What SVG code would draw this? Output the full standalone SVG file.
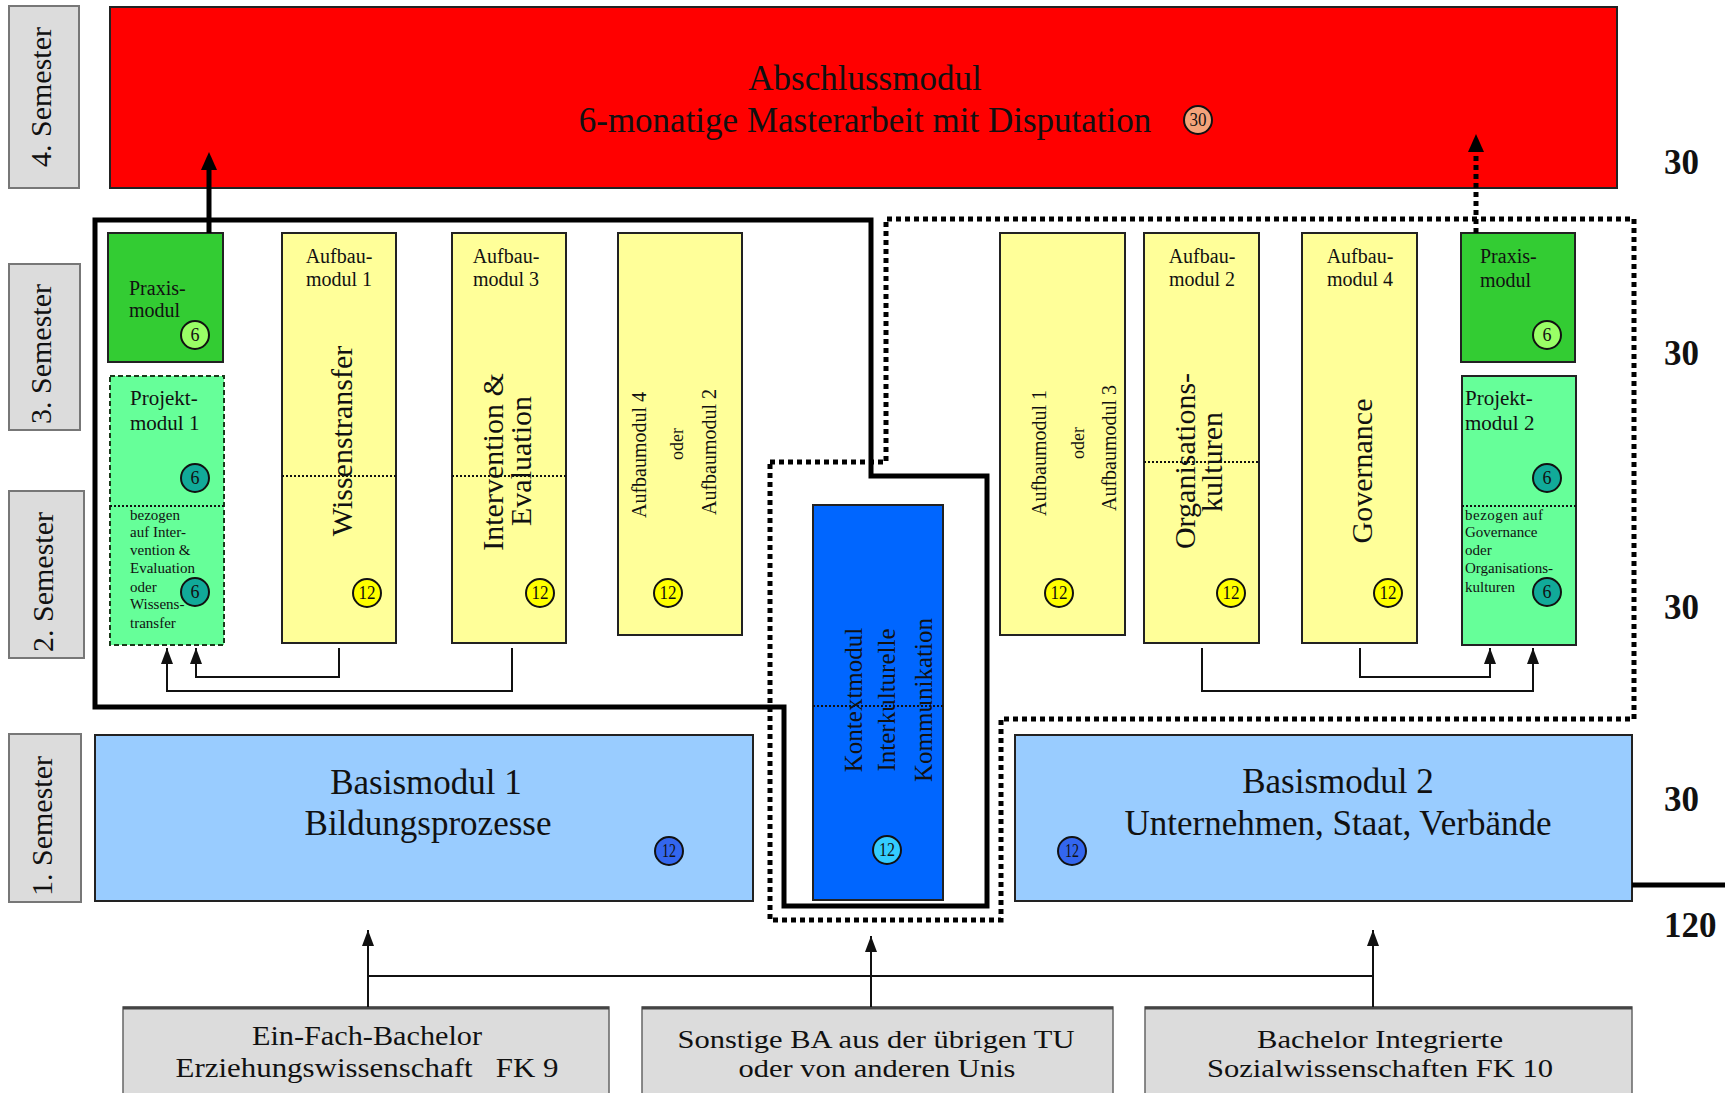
<svg xmlns="http://www.w3.org/2000/svg" width="1725" height="1093" viewBox="0 0 1725 1093">
<defs>
<style>
.t{font-family:"Liberation Serif","Times New Roman",serif;fill:#111}
.box{stroke:#222;stroke-width:2}
.sem{fill:#dcdcdc;stroke:#777;stroke-width:2}
.src{fill:#dcdcdc;stroke:#666;stroke-width:1.5}
.bc{stroke:#111;stroke-width:2}
.bt{font-family:"Liberation Serif","Times New Roman",serif;font-size:18px;text-anchor:middle;fill:#111}
.sep{stroke:#111;stroke-width:2;stroke-dasharray:2 2;fill:none}
.conn{stroke:#111;stroke-width:2;fill:none}
.thick{stroke:#000;stroke-width:5;fill:none}
.dotted{stroke:#000;stroke-width:5;stroke-dasharray:5 4;fill:none}
.mid{text-anchor:middle}
.num{font-family:"Liberation Serif","Times New Roman",serif;font-weight:bold;font-size:35px;fill:#111}
</style>
<marker id="arr" viewBox="0 0 16 12" refX="16" refY="6" markerWidth="16" markerHeight="12" markerUnits="userSpaceOnUse" orient="auto"><path d="M0,0 L16,6 L0,12 z" fill="#111"/></marker>
<marker id="arrT" viewBox="0 0 18 16" refX="4" refY="8" markerWidth="18" markerHeight="16" markerUnits="userSpaceOnUse" orient="auto"><path d="M0,0 L18,8 L0,16 z" fill="#000"/></marker>
</defs>
<rect width="1725" height="1093" fill="#fff"/>

<!-- semester labels -->
<g id="sem4"><rect class="sem" x="9" y="6" width="70" height="182"/><text class="t mid" font-size="30" transform="translate(51,97) rotate(-90)">4. Semester</text></g>
<g id="sem3"><rect class="sem" x="9" y="264" width="71" height="166"/><text class="t mid" font-size="30" transform="translate(51,354) rotate(-90)">3. Semester</text></g>
<g id="sem2"><rect class="sem" x="9" y="491" width="75" height="167"/><text class="t mid" font-size="30" transform="translate(53,582) rotate(-90)">2. Semester</text></g>
<g id="sem1"><rect class="sem" x="9" y="734" width="72" height="168"/><text class="t mid" font-size="30" transform="translate(52,826) rotate(-90)">1. Semester</text></g>

<!-- Abschlussmodul -->
<g id="abschluss">
<rect class="box" x="110" y="7" width="1507" height="181" fill="#ff0000"/>
<text class="t mid" font-size="35" x="865" y="90">Abschlussmodul</text>
<text class="t mid" font-size="35" x="865" y="132">6-monatige Masterarbeit mit Disputation</text>
<circle class="bc" cx="1198" cy="120" r="14" fill="#f4a37a"/><text class="bt" x="1198" y="126" font-size="17" textLength="17" lengthAdjust="spacingAndGlyphs">30</text>
</g>

<!-- left group -->
<g id="praxis1">
<rect class="box" x="108" y="233" width="115" height="129" fill="#33cc33"/>
<text class="t" font-size="20" x="129" y="295">Praxis-</text>
<text class="t" font-size="20" x="129" y="317">modul</text>
<circle class="bc" cx="195" cy="335" r="14" fill="#99ff66"/><text class="bt" x="195" y="341" fill="#225522">6</text>
</g>
<g id="projekt1">
<rect x="110" y="376" width="114" height="269" fill="#66ff99" stroke="#1a3a1a" stroke-width="2" stroke-dasharray="5 3"/>
<text class="t" font-size="21" x="130" y="405">Projekt-</text>
<text class="t" font-size="21" x="130" y="430">modul 1</text>
<circle class="bc" cx="195" cy="478" r="14" fill="#11aa99"/><text class="bt" x="195" y="484">6</text>
<line class="sep" x1="110" y1="506" x2="224" y2="506"/>
<text class="t" font-size="15" x="130" y="520">bezogen</text>
<text class="t" font-size="15" x="130" y="537">auf Inter-</text>
<text class="t" font-size="15" x="130" y="555">vention &amp;</text>
<text class="t" font-size="15" x="130" y="573">Evaluation</text>
<text class="t" font-size="15" x="130" y="592">oder</text>
<text class="t" font-size="15" x="130" y="609">Wissens-</text>
<text class="t" font-size="15" x="130" y="628">transfer</text>
<circle class="bc" cx="195" cy="592" r="14" fill="#11aa99"/><text class="bt" x="195" y="598">6</text>
</g>
<g id="aufbau1">
<rect class="box" x="282" y="233" width="114" height="410" fill="#ffff99"/>
<text class="t mid" font-size="20" x="339" y="263">Aufbau-</text>
<text class="t mid" font-size="20" x="339" y="286">modul 1</text>
<line class="sep" x1="282" y1="476" x2="396" y2="476"/>
<text class="t mid" font-size="30" transform="translate(352,441) rotate(-90)">Wissenstransfer</text>
<circle class="bc" cx="367" cy="593" r="14" fill="#ffff00"/><text class="bt" x="367" y="599" textLength="17" lengthAdjust="spacingAndGlyphs">12</text>
</g>
<g id="aufbau3">
<rect class="box" x="452" y="233" width="114" height="410" fill="#ffff99"/>
<text class="t mid" font-size="20" x="506" y="263">Aufbau-</text>
<text class="t mid" font-size="20" x="506" y="286">modul 3</text>
<line class="sep" x1="452" y1="476" x2="566" y2="476"/>
<text class="t mid" font-size="30" transform="translate(503,462) rotate(-90)">Intervention &amp;</text>
<text class="t mid" font-size="30" transform="translate(531,461) rotate(-90)">Evaluation</text>
<circle class="bc" cx="540" cy="593" r="14" fill="#ffff00"/><text class="bt" x="540" y="599" textLength="17" lengthAdjust="spacingAndGlyphs">12</text>
</g>
<g id="aufbau4oder2">
<rect class="box" x="618" y="233" width="124" height="402" fill="#ffff99"/>
<text class="t mid" font-size="20" transform="translate(646,455) rotate(-90)">Aufbaumodul 4</text>
<text class="t mid" font-size="18" transform="translate(683,444) rotate(-90)">oder</text>
<text class="t mid" font-size="20" transform="translate(716,452) rotate(-90)">Aufbaumodul 2</text>
<circle class="bc" cx="668" cy="593" r="14" fill="#ffff00"/><text class="bt" x="668" y="599" textLength="17" lengthAdjust="spacingAndGlyphs">12</text>
</g>

<!-- Kontextmodul -->
<g id="kontext">
<rect class="box" x="813" y="505" width="130" height="395" fill="#0066ff"/>
<line class="sep" x1="813" y1="706" x2="943" y2="706"/>
<text class="t mid" font-size="25" transform="translate(862,700) rotate(-90)">Kontextmodul</text>
<text class="t mid" font-size="25" transform="translate(895,700) rotate(-90)">Interkulturelle</text>
<text class="t mid" font-size="25" transform="translate(932,700) rotate(-90)">Kommunikation</text>
<circle class="bc" cx="887" cy="850" r="14" fill="#33ccff"/><text class="bt" x="887" y="856" font-size="17" textLength="16" lengthAdjust="spacingAndGlyphs">12</text>
</g>

<!-- right group -->
<g id="aufbau1oder3">
<rect class="box" x="1000" y="233" width="125" height="402" fill="#ffff99"/>
<text class="t mid" font-size="20" transform="translate(1046,453) rotate(-90)">Aufbaumodul 1</text>
<text class="t mid" font-size="18" transform="translate(1084,443) rotate(-90)">oder</text>
<text class="t mid" font-size="20" transform="translate(1116,448) rotate(-90)">Aufbaumodul 3</text>
<circle class="bc" cx="1059" cy="593" r="14" fill="#ffff00"/><text class="bt" x="1059" y="599" textLength="17" lengthAdjust="spacingAndGlyphs">12</text>
</g>
<g id="aufbau2">
<rect class="box" x="1144" y="233" width="115" height="410" fill="#ffff99"/>
<text class="t mid" font-size="20" x="1202" y="263">Aufbau-</text>
<text class="t mid" font-size="20" x="1202" y="286">modul 2</text>
<line class="sep" x1="1144" y1="462" x2="1259" y2="462"/>
<text class="t mid" font-size="30" transform="translate(1195,461) rotate(-90)">Organisations-</text>
<text class="t mid" font-size="30" transform="translate(1222,462) rotate(-90)">kulturen</text>
<circle class="bc" cx="1231" cy="593" r="14" fill="#ffff00"/><text class="bt" x="1231" y="599" textLength="17" lengthAdjust="spacingAndGlyphs">12</text>
</g>
<g id="aufbau4">
<rect class="box" x="1302" y="233" width="115" height="410" fill="#ffff99"/>
<text class="t mid" font-size="20" x="1360" y="263">Aufbau-</text>
<text class="t mid" font-size="20" x="1360" y="286">modul 4</text>
<text class="t mid" font-size="30" transform="translate(1372,471) rotate(-90)">Governance</text>
<circle class="bc" cx="1388" cy="593" r="14" fill="#ffff00"/><text class="bt" x="1388" y="599" textLength="17" lengthAdjust="spacingAndGlyphs">12</text>
</g>
<g id="praxis2">
<rect class="box" x="1461" y="233" width="114" height="129" fill="#33cc33"/>
<text class="t" font-size="20" x="1480" y="263">Praxis-</text>
<text class="t" font-size="20" x="1480" y="287">modul</text>
<circle class="bc" cx="1547" cy="335" r="14" fill="#99ff66"/><text class="bt" x="1547" y="341" fill="#225522">6</text>
</g>
<g id="projekt2">
<rect class="box" x="1462" y="376" width="114" height="269" fill="#66ff99"/>
<text class="t" font-size="21" x="1465" y="405">Projekt-</text>
<text class="t" font-size="21" x="1465" y="430">modul 2</text>
<circle class="bc" cx="1547" cy="478" r="14" fill="#11aa99"/><text class="bt" x="1547" y="484">6</text>
<line class="sep" x1="1462" y1="506" x2="1576" y2="506"/>
<text class="t" font-size="15" x="1465" y="520" textLength="78" lengthAdjust="spacing">bezogen auf</text>
<text class="t" font-size="15" x="1465" y="537">Governance</text>
<text class="t" font-size="15" x="1465" y="555">oder</text>
<text class="t" font-size="15" x="1465" y="573">Organisations-</text>
<text class="t" font-size="15" x="1465" y="592">kulturen</text>
<circle class="bc" cx="1547" cy="592" r="14" fill="#11aa99"/><text class="bt" x="1547" y="598">6</text>
</g>

<!-- Basismodule -->
<g id="basis1">
<rect class="box" x="95" y="735" width="658" height="166" fill="#99ccff"/>
<text class="t mid" font-size="35" x="426" y="794">Basismodul 1</text>
<text class="t mid" font-size="35" x="428" y="835">Bildungsprozesse</text>
<circle class="bc" cx="669" cy="851" r="14" fill="#3366ee"/><text class="bt" x="669" y="857" font-size="16" fill="#112266" textLength="14" lengthAdjust="spacingAndGlyphs">12</text>
</g>
<g id="basis2">
<rect class="box" x="1015" y="735" width="617" height="166" fill="#99ccff"/>
<text class="t mid" font-size="35" x="1338" y="793">Basismodul 2</text>
<text class="t mid" font-size="35" x="1338" y="835">Unternehmen, Staat, Verbände</text>
<circle class="bc" cx="1072" cy="851" r="14" fill="#3366ee"/><text class="bt" x="1072" y="857" font-size="16" fill="#112266" textLength="14" lengthAdjust="spacingAndGlyphs">12</text>
</g>

<!-- source degrees -->
<g id="src1">
<rect class="src" x="123" y="1007" width="486" height="100"/>
<line x1="123" y1="1008" x2="609" y2="1008" stroke="#444" stroke-width="3"/>
<text class="t mid" font-size="27" x="367" y="1045" textLength="230" lengthAdjust="spacingAndGlyphs">Ein-Fach-Bachelor</text>
<text class="t mid" font-size="27" x="367" y="1077" textLength="383" lengthAdjust="spacingAndGlyphs" xml:space="preserve">Erziehungswissenschaft   FK 9</text>
</g>
<g id="src2">
<rect class="src" x="642" y="1007" width="471" height="100"/>
<line x1="642" y1="1008" x2="1113" y2="1008" stroke="#444" stroke-width="3"/>
<text class="t mid" font-size="26" x="876" y="1048" textLength="397" lengthAdjust="spacingAndGlyphs">Sonstige BA aus der übrigen TU</text>
<text class="t mid" font-size="26" x="877" y="1077" textLength="277" lengthAdjust="spacingAndGlyphs">oder von anderen Unis</text>
</g>
<g id="src3">
<rect class="src" x="1145" y="1007" width="487" height="100"/>
<line x1="1145" y1="1008" x2="1632" y2="1008" stroke="#444" stroke-width="3"/>
<text class="t mid" font-size="26" x="1380" y="1048" textLength="246" lengthAdjust="spacingAndGlyphs">Bachelor Integrierte</text>
<text class="t mid" font-size="26" x="1380" y="1077" textLength="346" lengthAdjust="spacingAndGlyphs">Sozialwissenschaften FK 10</text>
</g>

<!-- ECTS totals -->
<g id="totals">
<text class="num" x="1664" y="174">30</text>
<text class="num" x="1664" y="365">30</text>
<text class="num" x="1664" y="619">30</text>
<text class="num" x="1664" y="811">30</text>
<text class="num" x="1664" y="937">120</text>
</g>

<!-- connectors -->
<g id="connectors">
<path class="thick" d="M95,220 H871 V476 H987 V906 H784 V707 H95 Z"/>
<path class="dotted" d="M770,462 H886 V219 H1634 V719 H1001 V920 H770 Z"/>
<line class="thick" x1="1632" y1="885" x2="1725" y2="885"/>
<path class="thick" d="M209,233 V166" marker-end="url(#arrT)"/>
<path class="dotted" d="M1476,233 V148" marker-end="url(#arrT)"/>
<path class="conn" d="M339,648 V677 H196 V648" marker-end="url(#arr)"/>
<path class="conn" d="M512,648 V691 H167 V648" marker-end="url(#arr)"/>
<path class="conn" d="M1360,648 V677 H1490 V648" marker-end="url(#arr)"/>
<path class="conn" d="M1202,648 V691 H1533 V648" marker-end="url(#arr)"/>
<line class="conn" x1="368" y1="976" x2="1373" y2="976"/>
<path class="conn" d="M368,1007 V930" marker-end="url(#arr)"/>
<path class="conn" d="M871,1007 V936" marker-end="url(#arr)"/>
<path class="conn" d="M1373,1007 V930" marker-end="url(#arr)"/>
</g>
</svg>
